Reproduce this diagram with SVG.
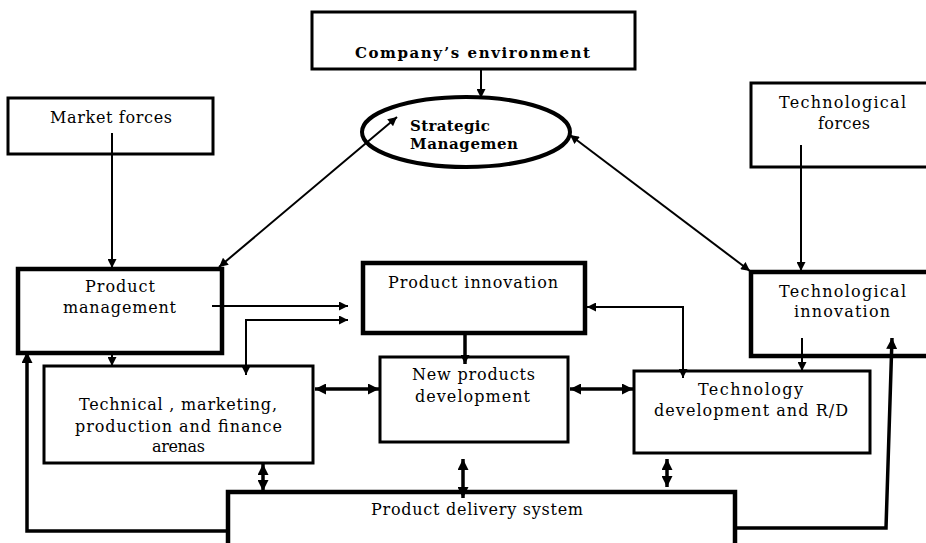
<svg xmlns="http://www.w3.org/2000/svg" width="926" height="543" viewBox="0 0 926 543">
<defs>
<style>
.box{fill:#fff;stroke:#000;stroke-width:3}
.thick{stroke-width:4.5}
.t{font-family:"DejaVu Serif",serif;font-size:16px;fill:#000}
.b{font-weight:bold;font-size:15px}
.c{fill:none;stroke:#000;stroke-width:2}
.cb{fill:none;stroke:#000;stroke-width:3.5}
</style>
<marker id="ah" viewBox="0 0 10 10" refX="10" refY="5" markerWidth="10" markerHeight="9" markerUnits="userSpaceOnUse" orient="auto-start-reverse"><path d="M0,0 L10,5 L0,10 z" fill="#000"/></marker>
<marker id="ahb" viewBox="0 0 10 10" refX="10" refY="5" markerWidth="11" markerHeight="11" markerUnits="userSpaceOnUse" orient="auto-start-reverse"><path d="M0,0 L10,5 L0,10 z" fill="#000"/></marker>
</defs>
<rect width="926" height="543" fill="#fff"/>

<g id="company-environment">
<rect class="box" x="312" y="12" width="323" height="57"/>
<text class="t b" x="355" y="58" textLength="235" lengthAdjust="spacing">Company’s environment</text>
</g>

<g id="strategic-management">
<ellipse cx="466" cy="132" rx="104" ry="35" fill="#fff" stroke="#000" stroke-width="4"/>
<text class="t b" x="410" y="131" textLength="80" lengthAdjust="spacing">Strategic</text>
<text class="t b" x="410" y="149" textLength="108" lengthAdjust="spacing">Managemen</text>
</g>

<g id="market-forces">
<rect class="box" x="8" y="98" width="205" height="56"/>
<text class="t" x="50" y="123" textLength="122" lengthAdjust="spacing">Market forces</text>
</g>

<g id="technological-forces">
<rect class="box" x="751" y="83" width="185" height="84"/>
<text class="t" x="779" y="108" textLength="127" lengthAdjust="spacing">Technological</text>
<text class="t" x="818" y="129" textLength="52" lengthAdjust="spacing">forces</text>
</g>

<g id="product-management">
<rect class="box thick" x="18" y="269" width="204" height="84"/>
<text class="t" x="85" y="292" textLength="70" lengthAdjust="spacing">Product</text>
<text class="t" x="63" y="313" textLength="113" lengthAdjust="spacing">management</text>
</g>

<g id="product-innovation">
<rect class="box thick" x="363" y="263" width="222" height="70"/>
<text class="t" x="388" y="288" textLength="170" lengthAdjust="spacing">Product innovation</text>
</g>

<g id="technological-innovation">
<rect class="box thick" x="751" y="272" width="185" height="84"/>
<text class="t" x="779" y="297" textLength="127" lengthAdjust="spacing">Technological</text>
<text class="t" x="794" y="317" textLength="96" lengthAdjust="spacing">innovation</text>
</g>

<g id="technical-arenas">
<rect class="box" x="44" y="366" width="269" height="97"/>
<text class="t" x="79" y="410" textLength="198" lengthAdjust="spacing">Technical , marketing,</text>
<text class="t" x="75" y="432" textLength="207" lengthAdjust="spacing">production and finance</text>
<text class="t" x="152" y="452" textLength="53" lengthAdjust="spacing">arenas</text>
</g>

<g id="new-products-development">
<rect class="box" x="380" y="357" width="188" height="85" stroke-width="5"/>
<text class="t" x="412" y="380" textLength="123" lengthAdjust="spacing">New products</text>
<text class="t" x="415" y="402" textLength="115" lengthAdjust="spacing">development</text>
</g>

<g id="technology-development">
<rect class="box" x="634" y="371" width="236" height="82"/>
<text class="t" x="698" y="395" textLength="105" lengthAdjust="spacing">Technology</text>
<text class="t" x="654" y="416" textLength="194" lengthAdjust="spacing">development and R/D</text>
</g>

<g id="product-delivery-system">
<rect class="box thick" x="228" y="492" width="507" height="70"/>
<text class="t" x="371" y="515" textLength="212" lengthAdjust="spacing">Product delivery system</text>
</g>

<g id="connectors">
<path class="c" d="M481,69 V98" marker-end="url(#ah)"/>
<path class="c" d="M112,133 V268" marker-end="url(#ah)"/>
<path class="c" d="M397,117 L219,267" marker-start="url(#ah)" marker-end="url(#ah)"/>
<path class="c" d="M570,135 L750,271" marker-start="url(#ah)" marker-end="url(#ah)"/>
<path class="c" d="M801,145 V271" marker-end="url(#ah)"/>
<path class="c" d="M212,306 H348" marker-end="url(#ah)"/>
<path class="c" d="M246,375 V320 H348" marker-start="url(#ah)" marker-end="url(#ah)"/>
<path class="c" d="M587,307 H683 V378" marker-start="url(#ah)" marker-end="url(#ah)"/>
<path class="cb" d="M465,335 V364" marker-end="url(#ah)"/>
<path class="c" d="M112,355 V366" marker-end="url(#ah)"/>
<path class="cb" d="M315,389 H379" marker-start="url(#ahb)" marker-end="url(#ahb)"/>
<path class="cb" d="M570,389 H633" marker-start="url(#ahb)" marker-end="url(#ahb)"/>
<path class="c" d="M802,338 V371" marker-end="url(#ah)"/>
<path class="cb" d="M263,464 V491" marker-start="url(#ahb)" marker-end="url(#ahb)"/>
<path class="cb" d="M463,459 V498" marker-start="url(#ahb)" marker-end="url(#ahb)"/>
<path class="cb" d="M667,459 V487" marker-start="url(#ahb)" marker-end="url(#ahb)"/>
<path class="cb" d="M228,531 H27 V352" marker-end="url(#ahb)"/>
<path class="cb" d="M735,528 H886 L892,338" marker-end="url(#ahb)"/>
</g>
</svg>
